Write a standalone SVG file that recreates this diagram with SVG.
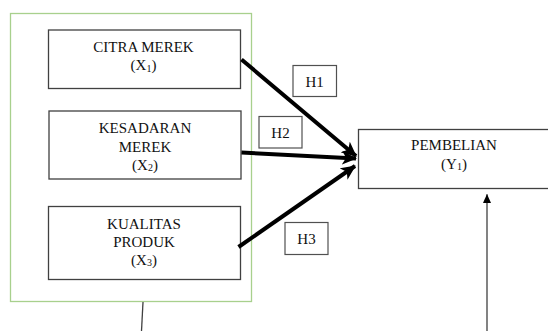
<svg xmlns="http://www.w3.org/2000/svg" width="548" height="331" viewBox="0 0 548 331">
<style>
.box{fill:#fff;stroke:#404040;stroke-width:1.3}
.hbox{fill:#fff;stroke:#505050;stroke-width:1.2}
text{font-family:'Liberation Serif',serif;font-size:15px;fill:#111;text-anchor:middle}
.sub{font-size:10px}
.thick{stroke:#000;stroke-width:4;fill:none}
.thin{stroke:#404040;stroke-width:1.3;fill:none}
</style>
<defs>
<marker id="ah" markerUnits="userSpaceOnUse" markerWidth="16" markerHeight="14" refX="14" refY="7" orient="auto">
<path d="M0,0 L15,7 L0,14 L4,7 Z" fill="#000"/>
</marker>
<marker id="as" markerUnits="userSpaceOnUse" markerWidth="8" markerHeight="10" refX="9" refY="4" orient="auto">
<path d="M0,0 L9,4 L0,8 Z" fill="#000"/>
</marker>
</defs>
<rect width="548" height="331" fill="#fff"/>
<g id="group">
<rect x="10.5" y="13.5" width="241" height="288" fill="none" stroke="#a8d08d" stroke-width="1.3"/>
</g>
<g id="citra">
<rect class="box" x="48.5" y="30" width="192" height="58.5"/>
<text x="143.5" y="52">CITRA MEREK</text>
<text x="143.5" y="70">(X<tspan class="sub" dy="2">1</tspan><tspan dy="-2">)</tspan></text>
</g>
<g id="kesadaran">
<rect class="box" x="49" y="111" width="192" height="68"/>
<text x="145" y="132.5">KESADARAN</text>
<text x="145" y="151.5">MEREK</text>
<text x="145" y="170">(X<tspan class="sub" dy="1">2</tspan><tspan dy="-1">)</tspan></text>
</g>
<g id="kualitas">
<rect class="box" x="48.5" y="206.5" width="192" height="73"/>
<text x="144" y="228.5">KUALITAS</text>
<text x="144" y="247">PRODUK</text>
<text x="144" y="265">(X<tspan class="sub" dy="1">3</tspan><tspan dy="-1">)</tspan></text>
</g>
<g id="pembelian">
<rect class="box" x="358.5" y="129.5" width="200" height="59"/>
<text x="454" y="150">PEMBELIAN</text>
<text x="454" y="168.5">(Y<tspan class="sub" dy="1">1</tspan><tspan dy="-1">)</tspan></text>
</g>
<g id="h1">
<rect class="hbox" x="293" y="65.5" width="43.5" height="31"/>
<text x="314.7" y="86.5">H1</text>
</g>
<g id="h2">
<rect class="hbox" x="259" y="116.5" width="43" height="31.5"/>
<text x="280.5" y="137.5">H2</text>
</g>
<g id="h3">
<rect class="hbox" x="285" y="222.5" width="43" height="32"/>
<text x="306.5" y="243.5">H3</text>
</g>
<g id="connectors">
<line class="thick" x1="241.5" y1="59.5" x2="356" y2="156" marker-end="url(#ah)"/>
<line class="thick" x1="241.5" y1="152.5" x2="356" y2="158.5" marker-end="url(#ah)"/>
<line class="thick" x1="238.5" y1="247" x2="355" y2="166" marker-end="url(#ah)"/>
<line class="thin" x1="487" y1="331" x2="487" y2="194" marker-end="url(#as)"/>
<line class="thin" x1="143" y1="302" x2="141.5" y2="331"/>
</g>
</svg>
